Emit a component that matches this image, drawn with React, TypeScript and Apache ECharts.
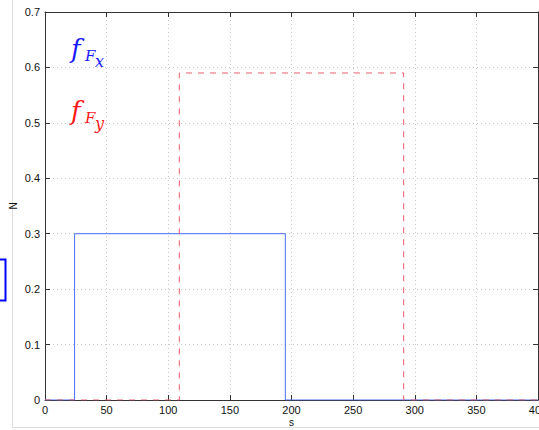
import React, { useEffect, useRef } from "react";
import * as echarts from "echarts";

// Step profiles of the two force distributions
const fxS = [0, 24, 24, 195, 195, 400];
const fxN = [0, 0, 0.3, 0.3, 0, 0];
const fyS = [0, 109, 109, 291, 291, 400];
const fyN = [0, 0, 0.59, 0.59, 0, 0];

const xTicks = { min: 0, max: 400, interval: 50 };
const yTicks = { min: 0, max: 0.7, interval: 0.1 };

const BLUE = "#4a6df5";
const RED = "#ec5e6e";
const AXIS = "#333333";
const TICKFONT = "Liberation Sans";
const MATHFONT = "DejaVu Serif";

export default function App() {
  const ref = useRef<HTMLDivElement>(null);
  useEffect(() => {
    if (!ref.current) return;
    const chart = echarts.init(ref.current, null, { renderer: "svg" });
    const pairs = (xs: number[], ys: number[]) => xs.map((x, i) => [x, ys[i]]);
    const axisCommon = {
      axisLine: { show: true, onZero: false, lineStyle: { color: AXIS, width: 1 } },
      axisTick: { show: true, inside: true, length: 5, lineStyle: { color: AXIS } },
    };
    const mathText = (text: string, x: number, y: number, size: number, fill: string) => ({
      type: "text",
      x,
      y,
      style: { text, fontFamily: MATHFONT, fontStyle: "italic", fontSize: size, fill },
    });
    chart.setOption({
      animation: false,
      backgroundColor: "#ffffff",
      grid: { left: 45, top: 12, right: 1, bottom: 30, containLabel: false, outerBoundsMode: "none" },
      xAxis: [
        {
          type: "value",
          ...xTicks,
          ...axisCommon,
          name: "s",
          nameLocation: "middle",
          nameGap: 17,
          nameMoveOverlap: false,
          nameTextStyle: { fontFamily: TICKFONT, fontSize: 10, color: "#111" },
          axisLabel: { fontFamily: TICKFONT, fontSize: 11, color: "#111", margin: 4 },
          splitLine: { show: true, lineStyle: { color: "#c8c8c8", type: [1, 3] } },
        },
        {
          type: "value",
          position: "top",
          ...xTicks,
          ...axisCommon,
          axisLabel: { show: false },
          splitLine: { show: false },
        },
      ],
      yAxis: [
        {
          type: "value",
          ...yTicks,
          ...axisCommon,
          name: "N",
          nameLocation: "middle",
          nameGap: 27,
          nameMoveOverlap: false,
          nameTextStyle: { fontFamily: TICKFONT, fontSize: 10, color: "#111" },
          axisLabel: { fontFamily: TICKFONT, fontSize: 11, color: "#111", margin: 5 },
          splitLine: { show: true, lineStyle: { color: "#c8c8c8", type: [1, 3] } },
        },
        {
          type: "value",
          position: "right",
          ...yTicks,
          ...axisCommon,
          axisLabel: { show: false },
          splitLine: { show: false },
        },
      ],
      series: [
        {
          type: "line",
          data: pairs(fxS, fxN),
          showSymbol: false,
          lineStyle: { color: BLUE, width: 1 },
          z: 3,
        },
        {
          type: "line",
          data: pairs(fyS, fyN),
          showSymbol: false,
          lineStyle: { color: RED, width: 1, type: [6, 6] },
          z: 4,
        },
      ],
      graphic: [
        // outer figure frame
        { type: "line", shape: { x1: 12.5, y1: 0, x2: 12.5, y2: 427.5 }, style: { stroke: "#dddddd", lineWidth: 1 } },
        { type: "line", shape: { x1: 12.5, y1: 427.5, x2: 539, y2: 427.5 }, style: { stroke: "#dddddd", lineWidth: 1 } },
        // small marker box at the left edge
        { type: "rect", shape: { x: -2, y: 259.5, width: 7.5, height: 41 }, style: { fill: "#ffffff", stroke: "#0000ff", lineWidth: 2 } },
        // f_{F_x}
        mathText("f", 71, 36, 26, "#1a1aff"),
        mathText("F", 85, 48, 15, "#1a1aff"),
        mathText("x", 95, 53, 16, "#1a1aff"),
        // f_{F_y}
        mathText("f", 71, 98, 26, "#ff1a1a"),
        mathText("F", 85, 110, 15, "#ff1a1a"),
        mathText("y", 95, 115, 16, "#ff1a1a"),
      ],
    });
    return () => chart.dispose();
  }, []);
  return <div ref={ref} style={{ width: 539, height: 430, position: "absolute", left: 0, top: 0 }} />;
}
